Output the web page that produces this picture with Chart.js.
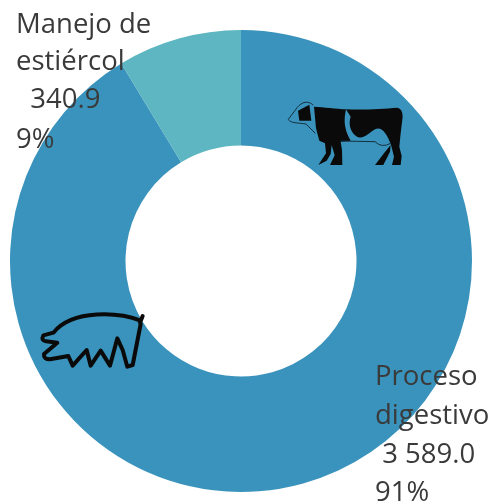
<!DOCTYPE html>
<html><head><meta charset="utf-8">
<style>html,body{margin:0;padding:0;background:#fff}#w{position:relative;width:493px;height:504px}</style>
<script src="https://cdn.jsdelivr.net/npm/chart.js@4/dist/chart.umd.min.js"></script>
</head><body><div id="w"><canvas id="c" width="493" height="504"></canvas></div>
<script>
const categories = ["Proceso digestivo", "Manejo de estiércol"];
const values = [3589.0, 340.9];
const valueLabels = ["3 589.0", "340.9"];
const percentLabels = ["91%", "9%"];
const colors = ["#3a93bc", "#5db6c1"];

const TEXT_BLOCKS = [
  {lines:[["Proceso",375,385],["digestivo",375,424],[" "+valueLabels[0],375,463],[percentLabels[0],375,501]]},
  {lines:[["Manejo de",16,33],["estiércol",16,70],["  "+valueLabels[1],16,108],[percentLabels[1],16,148]]}
];

const iconsAndText = {
  id:'iconsAndText',
  afterDraw(chart){
    const x = chart.ctx;
    x.save();
    // cow (crop-coordinates / 3)
    x.save(); x.translate(280,90); x.scale(1/3,1/3);
    x.fillStyle='#0a0a0a'; x.strokeStyle='#14303f'; x.lineWidth=3; x.lineJoin='round';
    // head outline
    x.beginPath(); x.moveTo(100,46); x.bezierCurveTo(85,30,65,36,52,52); x.lineTo(25,88); x.bezierCurveTo(30,100,55,98,78,102); x.lineTo(106,130); x.stroke();
    // head patch
    x.beginPath(); x.moveTo(54,62); x.lineTo(88,44); x.lineTo(94,92); x.lineTo(58,92); x.closePath(); x.fill();
    // left torso + front legs
    x.beginPath(); x.moveTo(102,50); x.bezierCurveTo(130,52,170,56,198,58);
    x.bezierCurveTo(192,85,190,115,212,152);
    x.lineTo(182,155); x.lineTo(186,180); x.lineTo(187,225); x.lineTo(150,225); x.lineTo(164,196); x.lineTo(155,165);
    x.lineTo(152,192); x.lineTo(140,212); x.lineTo(115,225); x.lineTo(138,190); x.lineTo(135,160); x.lineTo(118,152); x.lineTo(108,115);
    x.closePath(); x.fill();
    // right body + hind leg
    x.beginPath(); x.moveTo(198,58); x.bezierCurveTo(260,60,310,56,352,53); x.quadraticCurveTo(368,56,368,80);
    x.lineTo(362,130); x.lineTo(358,170); x.lineTo(365,198); x.lineTo(362,225); x.lineTo(336,225); x.lineTo(342,200); x.lineTo(334,168);
    x.bezierCurveTo(322,132,305,108,285,118); x.bezierCurveTo(265,130,248,152,228,138);
    x.bezierCurveTo(210,124,205,100,212,80); x.closePath(); x.fill();
    // belly line, udder, far hind leg
    x.beginPath(); x.moveTo(182,153); x.lineTo(285,155); x.stroke();
    x.beginPath(); x.moveTo(285,155); x.quadraticCurveTo(305,175,332,160); x.stroke();
    x.beginPath(); x.moveTo(332,165); x.lineTo(312,190); x.lineTo(285,225); x.lineTo(310,225); x.lineTo(330,185); x.closePath(); x.fill();
    x.restore();
    // pig
    x.save(); x.translate(30,300); x.scale(1/3,1/3);
    x.strokeStyle='#0a0a0a'; x.lineWidth=12; x.lineCap='round'; x.lineJoin='round';
    x.beginPath(); x.moveTo(338,48); x.lineTo(330,68); x.moveTo(332,62); x.bezierCurveTo(270,38,130,25,70,98);
    x.lineTo(40,106); x.quadraticCurveTo(32,122,48,124); x.lineTo(82,128); x.lineTo(42,162); x.quadraticCurveTo(40,178,60,178); x.lineTo(115,168);
    x.lineTo(128,197); x.lineTo(170,150); x.lineTo(182,197); x.lineTo(212,152); x.lineTo(240,197); x.lineTo(262,115);
    x.lineTo(278,150); x.lineTo(292,200); x.lineTo(308,195); x.lineTo(332,72);
    x.stroke(); x.restore();
    // labels
    x.fillStyle='#3a3a3a'; x.font='27.5px "Open Sans"'; x.textBaseline='alphabetic'; x.textAlign='left';
    TEXT_BLOCKS.forEach(b=>b.lines.forEach(l=>x.fillText(l[0],l[1],l[2])));
    x.restore();
  }
};

new Chart(document.getElementById('c'),{
  type:'doughnut',
  data:{labels:categories,datasets:[{data:values,backgroundColor:colors,borderWidth:0}]},
  options:{responsive:false,animation:false,cutout:'50%',
    layout:{padding:{left:10,right:21,top:30,bottom:12}},
    plugins:{legend:{display:false},tooltip:{enabled:false}}},
  plugins:[iconsAndText]
});
</script></body></html>
